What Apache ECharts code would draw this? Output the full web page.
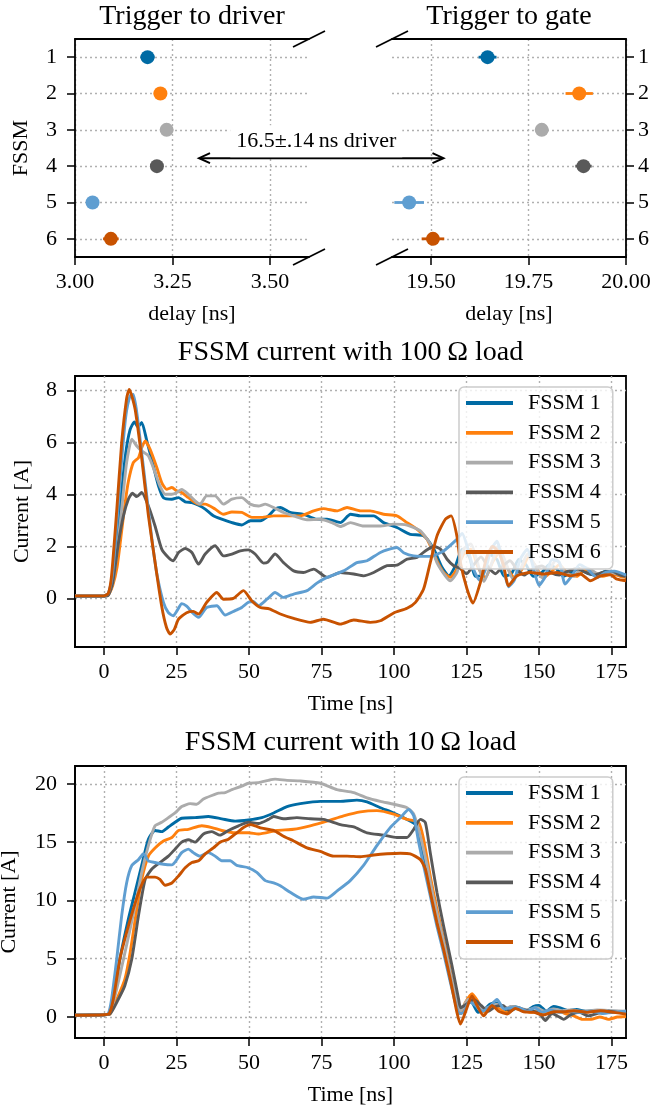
<!DOCTYPE html>
<html><head><meta charset="utf-8">
<script src="https://cdn.jsdelivr.net/npm/echarts@6/dist/echarts.min.js"></script>
<style>html,body{margin:0;padding:0;background:#fff}#c{width:668px;height:1110px}</style>
</head><body><div id="c"></div>
<script>
// ---------- data ----------
const fssmNames = ['FSSM 1', 'FSSM 2', 'FSSM 3', 'FSSM 4', 'FSSM 5', 'FSSM 6'];
const fssmColors = ['#006BA4', '#FF800E', '#ABABAB', '#595959', '#5F9ED1', '#C85200'];
const fssmIndex = [1, 2, 3, 4, 5, 6];

const driverDelay = [3.186, 3.219, 3.235, 3.210, 3.045, 3.092];
const driverErr   = [0.018, 0.017, 0.014, 0.016, 0.014, 0.020];
const gateDelay   = [19.645, 19.880, 19.784, 19.891, 19.444, 19.505];
const gateErr     = [0.023, 0.035, 0.017, 0.021, 0.038, 0.029];

const driverTicks = [3.0, 3.25, 3.5];
const gateTicks = [19.5, 19.75, 20.0];
const fssmTicks = [1, 2, 3, 4, 5, 6];
const timeTicks = [0, 25, 50, 75, 100, 125, 150, 175];
const current100Ticks = [0, 2, 4, 6, 8];
const current10Ticks = [0, 5, 10, 15, 20];

const arrowStart = [3.318, 3.78];
const arrowEnd = [19.532, 3.78];
const arrowText = '16.5±.14\u2009ns driver';

// FSSM current with 100 Ohm load: [time ns, current A]
const load100_fssm1 = [[-10,0.1],[0,0.1],[1.5,0.15],[3,0.6],[4.5,2.0],[6,4.0],[7.5,5.6],[9,6.5],[10.5,6.8],[11.7,6.6],[13,6.78],[14.7,6.1],[17,5.1],[18.8,4.33],[20.5,3.88],[23.4,3.82],[25.7,3.88],[28,3.72],[30.3,3.69],[32.6,3.59],[34.9,3.44],[37.7,3.18],[40.6,3.05],[44.1,2.92],[47.5,2.83],[50.4,2.99],[53.9,2.99],[56.7,3.18],[59,3.44],[60.8,3.5],[64.2,3.31],[68.8,3.24],[73.4,3.05],[76.9,3.05],[81.5,2.92],[85,3.24],[88.4,3.18],[93,3.18],[96.4,2.92],[101,2.73],[105.6,2.47],[110.2,2.41],[113.7,1.9],[116.6,1.19],[118.9,0.87],[121.2,1.26],[123.5,1.9],[126,1.6],[128,0.85],[130.5,0.9],[133,1.7],[135.5,1.5],[138,0.85],[140.5,0.95],[143,1.5],[145.5,1.3],[148,0.85],[151,1.0],[153.5,1.3],[156,1.15],[158.5,0.85],[161,1.0],[164,1.15],[167,0.95],[170,0.9],[173,1.05],[176,0.95],[180,0.9]];
const load100_fssm2 = [[-10,0.1],[0,0.1],[1.5,0.15],[3,0.5],[4.5,1.2],[6.1,2.6],[7.2,3.6],[8.4,4.5],[10.1,5.23],[11.9,5.42],[13,5.8],[14.2,6.06],[15.9,5.74],[18.2,5.04],[19.9,4.46],[21.6,4.2],[23.4,4.27],[25.1,4.14],[26.8,4.08],[29.1,3.88],[32.6,3.63],[34.9,3.63],[38.3,3.44],[41.2,3.24],[44.1,3.33],[47.5,3.31],[51,3.12],[54.4,3.12],[58.5,3.18],[63.1,3.18],[67.7,3.18],[72.3,3.37],[75.7,3.46],[80.3,3.37],[83.8,3.5],[88.4,3.37],[91.8,3.37],[96.4,3.24],[101,3.18],[104.5,2.92],[107.9,2.67],[111.4,2.28],[114.8,1.45],[117.1,1.0],[119.4,0.81],[121.7,1.13],[124,1.7],[126.5,1.9],[129,1.2],[131.5,0.8],[134,1.4],[136.5,1.8],[139,1.2],[141.5,0.8],[144,1.1],[146.5,1.6],[149,1.2],[151.5,0.8],[154,1.0],[157,1.3],[160,0.95],[163,0.85],[166,1.1],[169,1.0],[172,0.85],[175,0.95],[178,0.85],[180,0.8]];
const load100_fssm3 = [[-10,0.1],[0,0.1],[1.5,0.15],[3,0.6],[4.5,1.8],[6.1,3.44],[7.8,5.23],[9.6,6.13],[11.3,5.87],[13,5.68],[15.3,5.49],[17.6,4.85],[19.3,4.33],[21.1,4.01],[23.4,4.01],[25.1,4.08],[26.8,4.2],[29.1,4.01],[31.4,3.76],[33.1,3.63],[35.4,3.95],[38.3,3.95],[41.2,3.63],[44.1,3.82],[47.5,3.88],[50.4,3.63],[53.3,3.56],[55.6,3.63],[58.5,3.5],[61.9,3.31],[65.4,3.18],[70,3.03],[74.6,3.05],[78.6,2.92],[81.5,2.77],[85,2.92],[89.5,2.79],[95.3,2.79],[99.9,2.86],[104.5,2.82],[109.1,2.6],[112.5,2.09],[114.8,1.38],[117.7,0.87],[119.4,0.68],[121.7,1.0],[124,1.9],[126.5,2.1],[129,1.3],[131,0.65],[133.5,1.3],[136,2.0],[138.5,1.4],[141,0.75],[143.5,1.1],[146,1.7],[148.5,1.3],[151,0.8],[153.5,1.1],[156,1.5],[159,1.0],[162,0.85],[165,1.2],[168,1.1],[171,0.9],[174,1.0],[177,0.95],[180,0.85]];
const load100_fssm4 = [[-10,0.08],[0,0.08],[1.5,0.12],[3,0.6],[5,2.15],[6.7,3.18],[8.4,3.82],[9.8,4.05],[11.3,3.92],[13,4.08],[15.3,3.56],[17.6,2.79],[19.9,1.9],[22.2,1.58],[23.9,1.45],[25.7,1.77],[28,1.92],[30.3,1.77],[32.6,1.32],[34.9,1.71],[38.3,2.03],[41.2,1.64],[44.1,1.71],[47,1.83],[49.8,1.87],[52.1,1.71],[55,1.36],[56.5,1.4],[59,1.71],[61.9,1.38],[65.4,1.06],[68.8,1.0],[72.3,1.13],[76.9,0.81],[81.5,1.0],[86.1,0.94],[89.5,0.87],[93,1.0],[97.6,1.26],[101,1.28],[104.5,1.51],[107.9,1.58],[110.8,1.83],[113.7,2.0],[116,1.9],[118.3,1.51],[120.6,1.26],[122.9,1.15],[125,0.95],[127.5,1.3],[130,1.6],[132.5,1.2],[135,0.95],[137.5,1.25],[140,1.45],[142.5,1.1],[145,0.9],[148,1.15],[151,1.25],[154,1.0],[157,0.9],[160,1.05],[163,1.15],[166,1.0],[169,0.9],[172,1.0],[175,1.05],[178,0.9],[180,0.85]];
const load100_fssm5 = [[-10,0.1],[0,0.1],[1.5,0.2],[3,1.0],[4.5,3.0],[6,5.2],[7.5,7.0],[9,7.8],[10.1,7.85],[11.5,7.0],[13,5.6],[14.7,4.0],[16.5,2.3],[18.3,0.9],[20.5,-0.15],[22.2,-0.55],[23.9,-0.67],[25.3,-0.45],[26.8,-0.2],[28.5,-0.3],[30.5,-0.55],[32.6,-0.73],[35.4,-0.35],[38.9,-0.28],[41.8,-0.64],[45.2,-0.47],[47.5,-0.35],[49.8,-0.15],[51.5,-0.12],[53.3,-0.28],[56.2,-0.03],[59,0.23],[61.9,0.04],[65.4,0.17],[70,0.3],[73.4,0.59],[76.9,0.81],[82.6,1.06],[87.2,1.38],[90.7,1.45],[95.3,1.77],[101,1.96],[103.5,1.75],[106.8,1.64],[112.5,1.62],[117.1,1.83],[121.7,2.28],[123.5,2.5],[125.5,1.9],[127.5,1.1],[129.5,0.7],[131.5,1.1],[133.5,1.9],[135.5,2.2],[137.5,1.3],[139.5,0.45],[141.5,0.7],[143.5,1.5],[146,1.9],[148,1.2],[150,0.5],[152,0.8],[154.5,1.5],[157,1.4],[159,0.55],[161.5,0.9],[164,1.3],[167,1.1],[170,0.8],[173,1.0],[176,1.05],[180,0.9]];
const load100_fssm6 = [[-10,0.1],[0,0.1],[1.5,0.2],[2.6,0.87],[4.4,3.4],[6.1,6.0],[7.8,7.7],[8.7,8.05],[10.7,7.3],[13,5.4],[15.3,3.2],[17.6,1.4],[19.9,-0.3],[21.5,-1.1],[22.8,-1.37],[24.2,-1.2],[25.7,-0.8],[28.5,-0.55],[30.8,-0.5],[32.6,-0.6],[35.4,-0.15],[38.9,0.23],[41.2,-0.03],[44.6,0],[48.1,0.3],[51,-0.1],[53.9,-0.35],[57,-0.4],[60.8,-0.6],[65.4,-0.77],[71.1,-0.92],[75.7,-0.8],[81.5,-0.99],[86.1,-0.83],[91.8,-0.92],[95.3,-0.86],[99.9,-0.56],[104.5,-0.38],[107.4,-0.15],[110.2,0.36],[112.5,1.38],[114.8,2.4],[117.7,3.05],[119.7,3.18],[121.7,2.4],[122.9,1.38],[125.2,0.36],[127.2,-0.18],[129.8,0.62],[132,1.6],[134,2.0],[136,1.8],[137.8,1.26],[139.5,0.49],[142.4,0.87],[147,1.0],[151.6,0.94],[156.2,1.0],[160.8,0.87],[164.3,0.94],[167.7,0.68],[171.2,0.87],[174.6,0.91],[176.9,0.74],[180,0.68]];

// FSSM current with 10 Ohm load: [time ns, current A]
const load10_fssm1 = [[-10,0.15],[0,0.2],[2,0.3],[3.2,1.5],[5.5,5.0],[8.4,8.4],[10.7,10.7],[13,13.0],[15.3,15.25],[17.6,16.0],[19.9,15.9],[22.2,16.3],[24.5,16.7],[26.8,17.05],[31.4,17.1],[36,17.2],[40.6,17.0],[45.2,16.8],[49.8,16.9],[54.4,17.1],[58.5,17.5],[63.1,18.05],[67.7,18.3],[74.6,18.5],[81.5,18.5],[87.2,18.6],[90.7,18.45],[95.3,17.95],[99.9,17.5],[104.5,16.95],[107.9,16.4],[109.1,15.0],[111.4,12.4],[113.7,9.5],[116.6,6.4],[119.4,3.25],[121.7,1.0],[123,0.3],[125,1.3],[127,1.2],[129,0.4],[131,0.6],[133,1.1],[135.5,1.2],[138,0.5],[140.5,0.9],[143,0.8],[145.5,0.5],[148,0.9],[150,1.0],[152.5,0.5],[155,0.9],[157,0.8],[160,0.55],[163,0.65],[166,0.5],[170,0.55],[175,0.5],[180,0.45]];
const load10_fssm2 = [[-10,0.15],[0,0.2],[2,0.25],[4.9,1.8],[7.2,3.25],[9,5.5],[11.3,9.25],[13,11.8],[15.3,13.8],[17.6,14.5],[20.5,15.1],[23.4,15.4],[25.7,16.0],[29.1,16.1],[33.7,16.4],[37.2,16.25],[40.6,16.0],[45.2,15.8],[49.8,15.8],[53.3,15.7],[59.6,16.0],[65.4,16.1],[71.1,16.4],[76.9,16.8],[82.6,17.25],[88.4,17.6],[94.1,17.7],[99.9,17.4],[104.5,16.95],[108.5,16.7],[110.2,15.25],[112.5,12.1],[114.8,9.25],[117.7,6.1],[120,3.25],[122.3,0.7],[123,0.3],[124.5,1.2],[126.9,2.0],[129,1.3],[131,0.4],[133.5,0.9],[136,0.8],[138.5,0.4],[141,0.8],[144,0.6],[147,0.4],[150,0.5],[153,0.3],[156,0.6],[159,0.3],[162,0.1],[165,-0.2],[168,-0.2],[171,0.0],[174,-0.2],[177,0.0],[180,0.05]];
const load10_fssm3 = [[-10,0.15],[0,0.2],[2,0.3],[3.8,1.8],[7.2,5.5],[10.7,9.5],[13,12.4],[15.3,14.7],[17.6,16.4],[19.9,16.7],[22.2,17.1],[24.5,17.5],[26.8,18.05],[29.7,18.3],[32,18.25],[34.3,18.7],[37.2,19.0],[39.5,19.2],[41.8,19.25],[44.1,19.5],[47.5,19.8],[49.8,20.05],[53.3,20.1],[56.7,20.3],[59,20.4],[63.1,20.3],[67.7,20.25],[74.6,20.05],[80.3,19.5],[86.1,19.25],[90.7,18.8],[95.3,18.5],[99.9,18.25],[104.5,17.95],[106.8,17.4],[109.1,15.5],[111.4,13.0],[113.7,10.1],[116.6,7.0],[119.4,3.8],[122.3,1.0],[123,0.5],[125.5,1.5],[128,1.3],[130.5,0.6],[133,0.9],[135.5,1.1],[138,0.7],[140.5,0.9],[143,0.8],[146,0.6],[149,0.8],[152,0.5],[155,0.7],[158,0.55],[161,0.6],[165,0.5],[170,0.6],[175,0.55],[180,0.5]];
const load10_fssm4 = [[-10,0.15],[0,0.2],[2,0.25],[4.9,1.5],[7.2,2.7],[9.6,5.0],[11.9,8.7],[14.2,11.8],[16.5,12.7],[19.3,13.25],[22.2,13.8],[24.5,14.4],[26.8,15.0],[29.1,15.2],[31.4,15.0],[34.3,15.7],[37.2,15.9],[40,15.6],[42.9,16.0],[46.4,16.4],[49.8,16.7],[53.3,16.6],[56.7,16.95],[58.5,17.2],[61.9,17.0],[66.5,17.1],[71.1,17.0],[75.7,16.95],[81.5,16.5],[86.1,16.3],[90.7,15.8],[96.4,15.6],[101,15.4],[104.5,15.4],[106.8,16.1],[109.1,16.95],[110.8,16.7],[112.5,14.1],[114.8,10.7],[117.1,7.8],[120,4.4],[122.3,1.5],[123,0.8],[125,1.1],[127.5,1.5],[130,1.0],[132.5,0.5],[135,0.9],[137.5,1.0],[140,0.5],[142.5,0.8],[145,0.6],[148,0.5],[150.5,0.2],[152.2,-0.3],[154.5,0.3],[157,0.0],[158.5,-0.2],[161,0.2],[164,0.4],[167,0.1],[170,0.3],[174,0.5],[177,0.4],[180,0.3]];
const load10_fssm5 = [[-10,0.15],[0,0.2],[1.5,0.3],[2.6,1.5],[4.4,5.0],[6.1,8.7],[7.8,11.5],[9.6,13.0],[11.9,13.5],[13.6,14.0],[15.3,13.4],[17.6,13.25],[20.5,13.1],[23.4,13.05],[25.1,13.5],[26.8,14.1],[29.1,14.4],[30.8,14.1],[33.1,13.8],[36,14.1],[38.3,13.8],[40.6,13.4],[43.5,13.4],[45.8,13.0],[49.8,12.8],[52.7,12.4],[55.6,11.7],[58.5,11.5],[60.8,11.25],[64.2,10.7],[68.8,10.1],[72.3,10.3],[76.9,10.2],[80.3,10.8],[84.9,11.7],[89.5,13.0],[94.1,14.7],[98.7,16.25],[102.2,17.1],[105.1,17.8],[106.8,17.25],[108.5,15.0],[110.2,13.0],[112.5,10.4],[114.8,7.8],[117.1,5.5],[119.4,3.0],[121.7,0.7],[122.5,0.3],[124,0.4],[126,1.3],[128,1.0],[130.5,0.5],[133,0.9],[135.5,1.5],[138,0.7],[140.5,0.8],[143,0.8],[146,0.5],[148.5,0.8],[151,0.4],[154,0.6],[157,0.4],[160,0.5],[164,0.4],[168,0.5],[172,0.3],[176,0.4],[180,0.5]];
const load10_fssm6 = [[-10,0.15],[0,0.2],[1.8,0.3],[3.2,1.5],[5.5,5.0],[7.8,7.25],[10.1,9.25],[12.4,11.0],[14.7,12.0],[17.6,12.0],[19.3,11.8],[21.1,11.3],[23.4,11.5],[25.7,12.1],[28,12.8],[30.3,13.25],[32.6,13.4],[34.9,14.0],[37.7,14.5],[40,15.0],[42.9,15.25],[45.8,15.8],[48.1,16.25],[50.4,16.5],[52.1,16.4],[54.4,16.2],[58.5,16.0],[61.9,15.5],[65.4,15.1],[70,14.5],[74.6,14.2],[79.2,13.8],[83.8,13.8],[88.4,13.75],[93,13.9],[97.6,14.0],[102.2,14.05],[105.6,14.0],[109.1,13.5],[110.8,12.7],[112.5,10.7],[114.8,8.1],[117.1,5.8],[119.4,3.25],[121.7,0.4],[122.9,-0.6],[124.6,0.4],[126.9,1.8],[128.6,1.0],[130.9,0.1],[133.8,1.0],[136.1,0.5],[139,0.26],[141.8,0.74],[144.7,0.45],[148.2,0.4],[151.6,0.17],[155.1,0.45],[158.5,0.45],[162,0.54],[166.6,0.4],[171.2,0.54],[175.8,0.4],[180,0.25]];

const load100 = [load100_fssm1, load100_fssm2, load100_fssm3, load100_fssm4, load100_fssm5, load100_fssm6];
const load10 = [load10_fssm1, load10_fssm2, load10_fssm3, load10_fssm4, load10_fssm5, load10_fssm6];

// ---------- styles ----------
const FONT = "'Liberation Serif', 'Times New Roman', serif";
const FS = 22;
const TFS = 28;
const LW = 2.9;
const gridLine = { show: true, lineStyle: { color: '#b0b0b0', width: 1.4, type: [2, 3] } };
const spine = { show: true, onZero: false, lineStyle: { color: '#000', width: 1.8 } };
const txt = { fontFamily: FONT, fontSize: FS, color: '#000' };

function xAx(grid, min, max, ticks, fmt, name, nameGap, position) {
  return {
    type: 'value', gridIndex: grid, min: min, max: max, position: position || 'bottom',
    axisLine: spine,
    axisTick: { show: true, inside: false, length: 8, lineStyle: { color: '#000', width: 1.5 }, customValues: ticks },
    axisLabel: Object.assign({ customValues: ticks, margin: 14, formatter: fmt }, txt),
    splitLine: gridLine,
    name: name, nameLocation: 'middle', nameGap: nameGap, nameTextStyle: txt
  };
}
function topSpine(grid, min, max) {
  return { type: 'value', gridIndex: grid, min: min, max: max, position: 'top',
    axisLine: spine, axisTick: { show: false }, axisLabel: { show: false }, splitLine: { show: false } };
}
function yAx(grid, min, max, ticks, name, nameGap, position, inverse) {
  return {
    type: 'value', gridIndex: grid, min: min, max: max, position: position || 'left', inverse: !!inverse,
    axisLine: spine,
    axisTick: { show: true, inside: false, length: 8, lineStyle: { color: '#000', width: 1.5 }, customValues: ticks },
    axisLabel: Object.assign({ customValues: ticks, margin: 18 }, txt),
    splitLine: gridLine,
    name: name, nameLocation: 'middle', nameGap: nameGap, nameTextStyle: txt
  };
}

const series = [];
function errorSeries(xi, yi, delays, errs) {
  series.push({
    type: 'custom', xAxisIndex: xi, yAxisIndex: yi, z: 3, silent: true,
    data: delays.map((d, i) => [d, fssmIndex[i], errs[i], i]),
    encode: { x: 0, y: 1 },
    renderItem: function (params, api) {
      const x = api.value(0), y = api.value(1), e = api.value(2);
      const p1 = api.coord([x - e, y]), p2 = api.coord([x + e, y]);
      return { type: 'line', shape: { x1: p1[0], y1: p1[1], x2: p2[0], y2: p2[1] },
        style: { stroke: fssmColors[api.value(3)], lineWidth: 2.8 } };
    }
  });
  series.push({
    type: 'scatter', xAxisIndex: xi, yAxisIndex: yi, z: 4, symbol: 'circle', symbolSize: 14, silent: true,
    data: delays.map((d, i) => ({ value: [d, fssmIndex[i]], itemStyle: { color: fssmColors[i], opacity: 1 } }))
  });
}
errorSeries(0, 0, driverDelay, driverErr);
errorSeries(2, 1, gateDelay, gateErr);

function lineSeries(xi, yi, sets) {
  sets.forEach((d, i) => {
    series.push({
      name: fssmNames[i], type: 'line', xAxisIndex: xi, yAxisIndex: yi, data: d,
      showSymbol: false, symbol: 'none', smooth: 0.2, z: 2, silent: true,
      lineStyle: { color: fssmColors[i], width: LW }, itemStyle: { color: fssmColors[i] },
      emphasis: { disabled: true }
    });
  });
}
lineSeries(4, 2, load100);
lineSeries(5, 3, load10);

function legendAt(top) {
  return {
    data: fssmNames, orient: 'vertical', left: 459, top: top, icon: 'rect',
    itemWidth: 47, itemHeight: 3.8, itemGap: 7.8, padding: [5, 12, 6, 7],
    backgroundColor: 'rgba(255,255,255,0.8)', borderColor: '#cccccc', borderWidth: 1.5, borderRadius: 5,
    selectedMode: false,
    textStyle: { fontFamily: FONT, fontSize: FS, color: '#000', lineHeight: 22, padding: [0, 0, 0, 10] }
  };
}

const option = {
  animation: false,
  backgroundColor: '#fff',
  grid: [
    { left: 75, top: 39, width: 234, height: 218, containLabel: false, outerBoundsMode: 'none' },
    { left: 392, top: 39, width: 234, height: 218, containLabel: false, outerBoundsMode: 'none' },
    { left: 75, top: 376, width: 551, height: 271, containLabel: false, outerBoundsMode: 'none', show: true, borderColor: '#000', borderWidth: 1.8, backgroundColor: 'transparent' },
    { left: 75, top: 766, width: 551, height: 272, containLabel: false, outerBoundsMode: 'none', show: true, borderColor: '#000', borderWidth: 1.8, backgroundColor: 'transparent' }
  ],
  xAxis: [
    xAx(0, 3.0, 3.6, driverTicks, v => Number(v).toFixed(2), 'delay [ns]', 46),
    topSpine(0, 3.0, 3.6),
    xAx(1, 19.4, 20.0, gateTicks, v => Number(v).toFixed(2), 'delay [ns]', 46),
    topSpine(1, 19.4, 20.0),
    xAx(2, -10, 180, timeTicks, v => String(v), 'Time [ns]', 46),
    xAx(3, -10, 180, timeTicks, v => String(v), 'Time [ns]', 46)
  ],
  yAxis: [
    yAx(0, 0.5, 6.5, fssmTicks, 'FSSM', 43, 'left', true),
    Object.assign(yAx(1, 0.5, 6.5, fssmTicks, '', 0, 'right', true), { axisLabel: Object.assign({ customValues: fssmTicks, margin: 12 }, txt) }),
    yAx(2, -1.87, 8.565, current100Ticks, 'Current [A]', 42, 'left'),
    yAx(3, -1.8, 21.53, current10Ticks, 'Current [A]', 55, 'left')
  ],
  legend: [legendAt(387), legendAt(777)],
  series: series
};

const chart = echarts.init(document.getElementById('c'), null, { renderer: 'canvas' });
chart.setOption(option);

// ---------- annotations computed from the axes ----------
const px = (ai, v) => chart.convertToPixel({ xAxisIndex: ai }, v);
const py = (ai, v) => chart.convertToPixel({ yAxisIndex: ai }, v);
const g = [];
const lineEl = (x1, y1, x2, y2, w) => ({ type: 'line', z: 100, silent: true,
  shape: { x1: x1, y1: y1, x2: x2, y2: y2 }, style: { stroke: '#000', lineWidth: w || 1.8 } });
const leftEdge = px(0, 3.6), rightStart = px(2, 19.4);
const topY = py(0, 0.5), botY = py(0, 6.5);
[[leftEdge, topY], [leftEdge, botY], [rightStart, topY], [rightStart, botY]].forEach(p => {
  g.push(lineEl(p[0] - 16, p[1] + 8, p[0] + 16, p[1] - 8));
});
// arrow
const a1 = [px(0, arrowStart[0]), py(0, arrowStart[1])];
const a2 = [px(2, arrowEnd[0]), py(1, arrowEnd[1])];
g.push(lineEl(a1[0] + 1, a1[1], a2[0] - 1, a2[1], 2));
g.push({ type: 'polyline', z: 100, silent: true, shape: { points: [[a1[0] + 11, a1[1] - 5], [a1[0], a1[1]], [a1[0] + 11, a1[1] + 5]] }, style: { stroke: '#000', lineWidth: 2, fill: null } });
g.push({ type: 'polyline', z: 100, silent: true, shape: { points: [[a2[0] - 11, a2[1] - 5], [a2[0], a2[1]], [a2[0] - 11, a2[1] + 5]] }, style: { stroke: '#000', lineWidth: 2, fill: null } });
g.push({ type: 'text', z: 101, silent: true, x: (a1[0] + a2[0]) / 2 - 5, y: a1[1] - 17,
  style: { text: arrowText, fontFamily: FONT, fontSize: FS, fill: '#000', align: 'center', verticalAlign: 'middle', backgroundColor: '#fff', padding: [5, 6] } });
// titles
function title(text, cx, cy) {
  g.push({ type: 'text', z: 101, silent: true, x: cx, y: cy,
    style: { text: text, fontFamily: FONT, fontSize: TFS, fill: '#000', align: 'center', verticalAlign: 'middle' } });
}
title('Trigger to driver', (px(0, 3.0) + px(0, 3.6)) / 2, 17);
title('Trigger to gate', (px(2, 19.4) + px(2, 20.0)) / 2, 17);
title('FSSM current with 100\u2009Ω load', (px(4, -10) + px(4, 180)) / 2, 353);
title('FSSM current with 10\u2009Ω load', (px(5, -10) + px(5, 180)) / 2, 743);
chart.setOption({ graphic: g });
</script>
</body></html>
